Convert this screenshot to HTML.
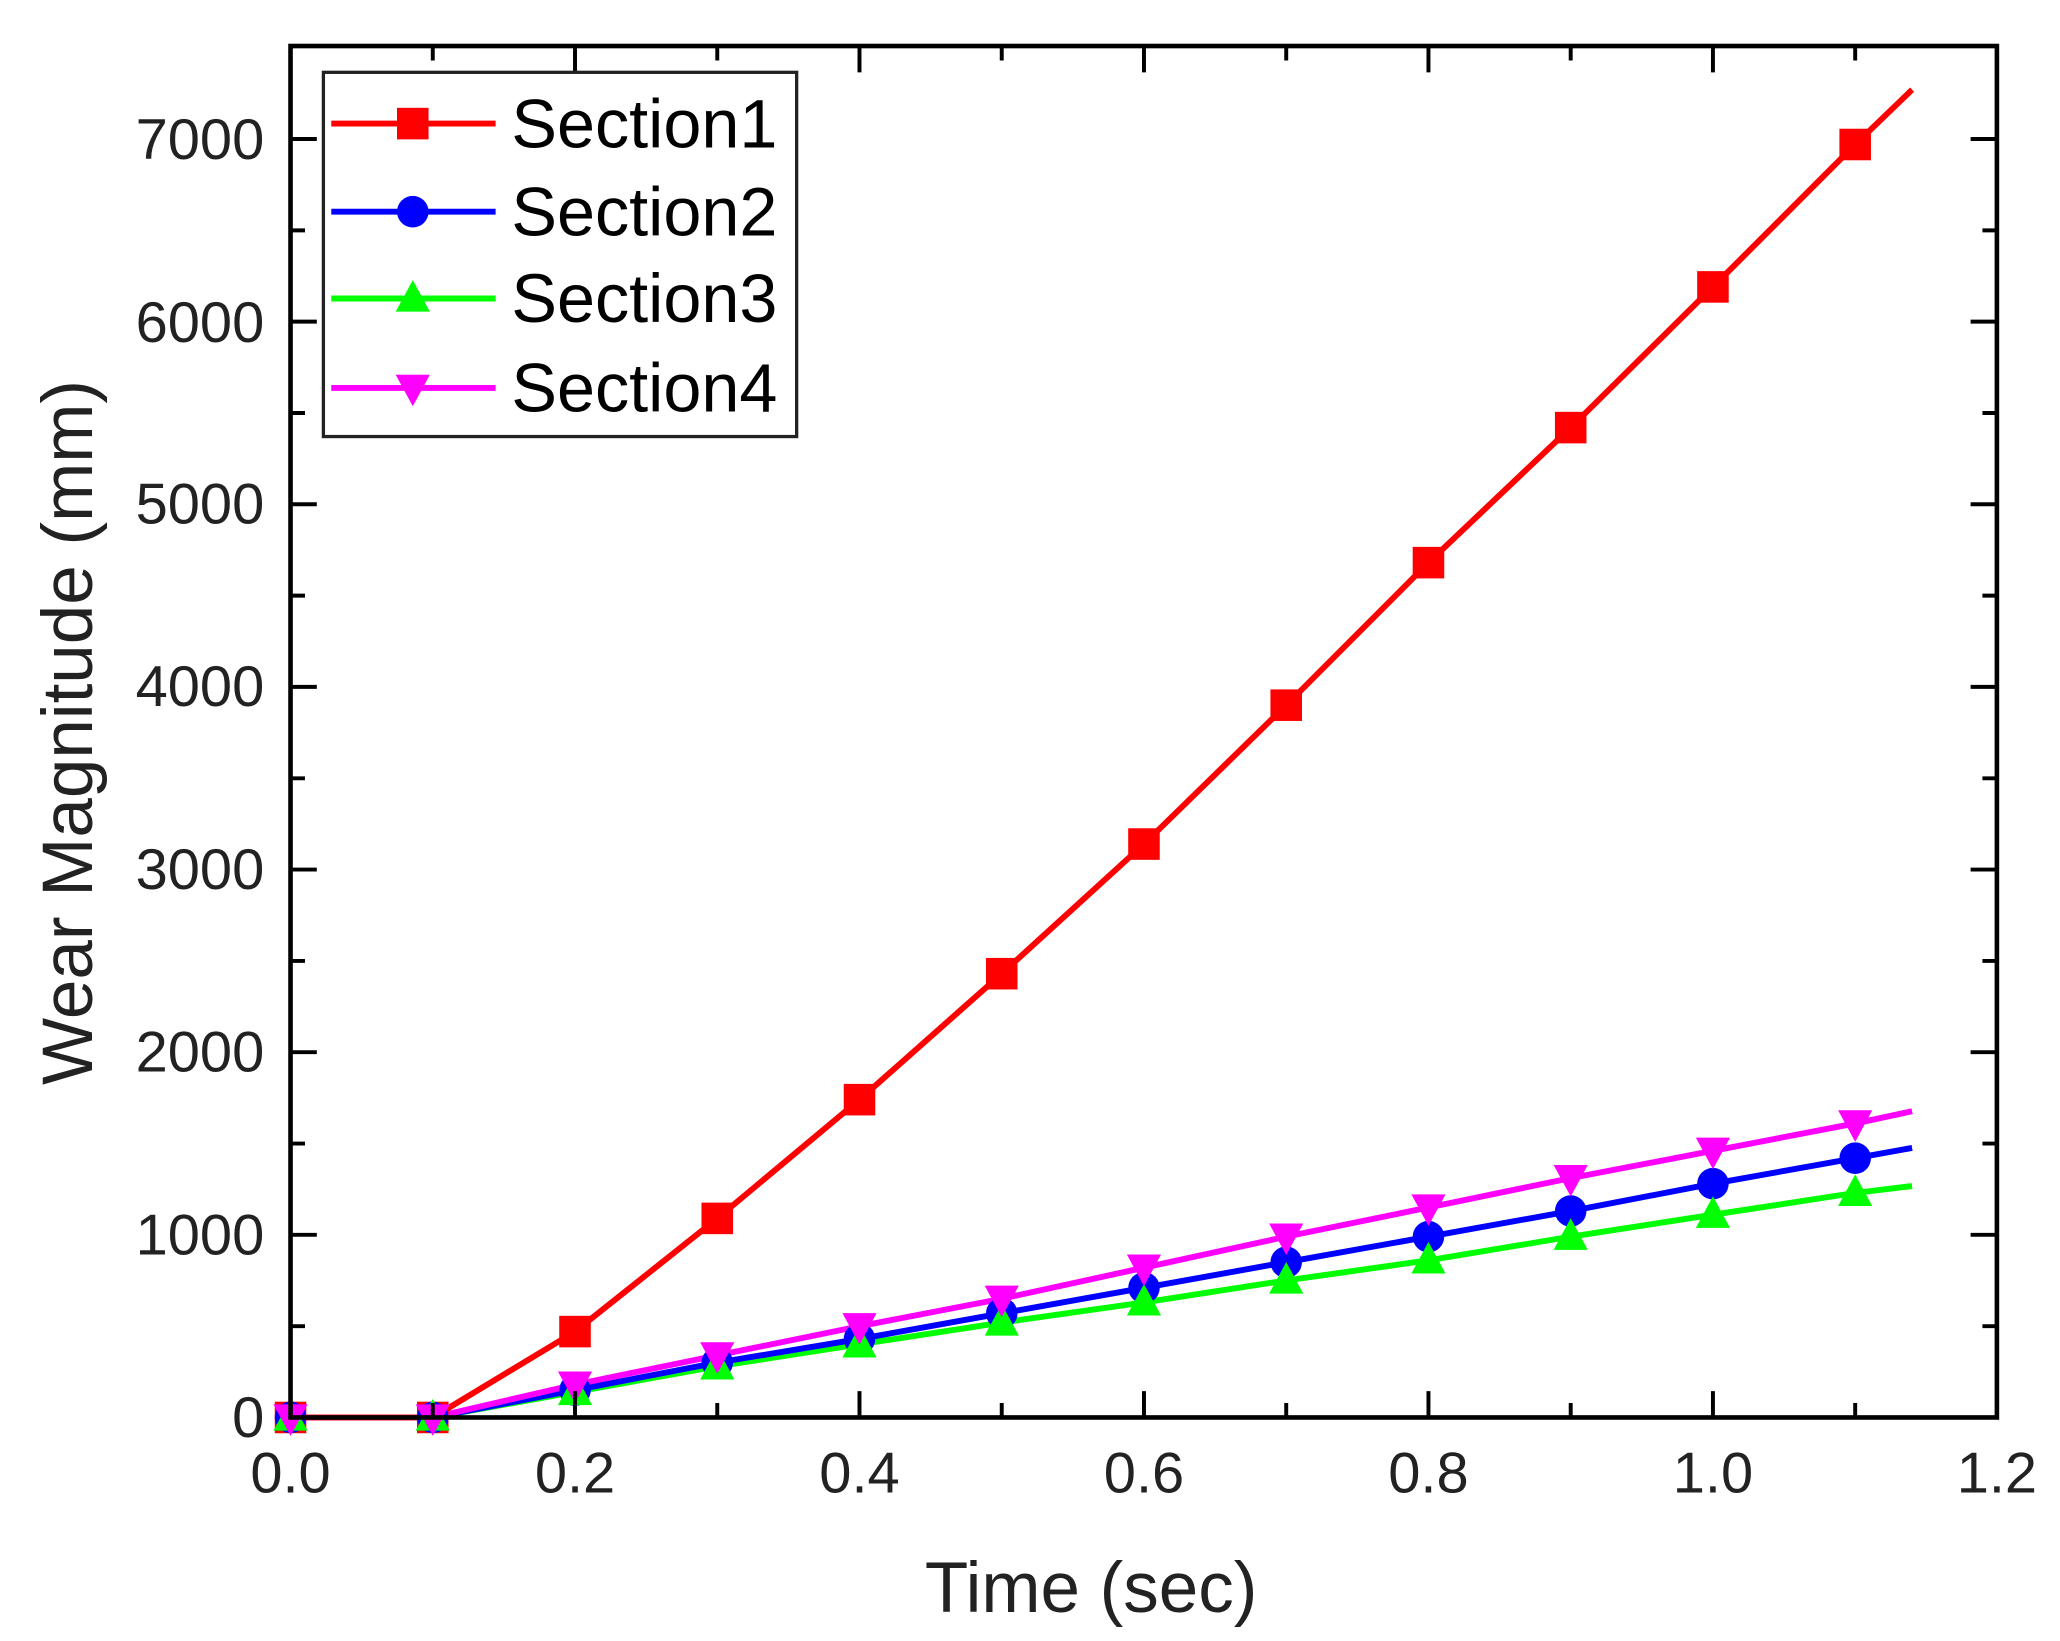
<!DOCTYPE html>
<html><head><style>html,body{margin:0;padding:0;background:#fff}svg{display:block}</style></head>
<body>
<svg width="2060" height="1641" viewBox="0 0 1567 1248" preserveAspectRatio="none" xmlns="http://www.w3.org/2000/svg" font-family="Liberation Sans, Arial, sans-serif">
<defs>
<rect id="sq" x="-12" y="-12" width="24" height="24" fill="#ff0000"/>
<circle id="ci" r="12" fill="#0000ff"/>
<polygon id="tu" points="0,-14 13,10 -13,10" fill="#00ff00"/>
<polygon id="td" points="0,14 13,-10 -13,-10" fill="#ff00ff"/>
</defs>
<rect width="1567" height="1248" fill="#fff"/>
<g fill="none" stroke-width="4.5" stroke-linejoin="round">
<polyline stroke="#00ff00" points="221,1078 329.2,1078 437.4,1058.6 545.6,1039.1 653.8,1022.4 762,1005.8 870.2,990.5 978.4,973.8 1086.6,958.5 1194.8,940.5 1303,923.8 1411.2,907.2 1454.5,902"/>
<polyline stroke="#0000ff" points="221,1078 329.2,1078 437.4,1057.2 545.6,1036.3 653.8,1018.3 762,998.8 870.2,979.4 978.4,959.9 1086.6,940.5 1194.8,921 1303,900.2 1411.2,880.8 1454.5,873"/>
<polyline stroke="#ff00ff" points="221,1078 329.2,1078 437.4,1053 545.6,1030.8 653.8,1008.6 762,987.7 870.2,964.1 978.4,940.5 1086.6,918.3 1194.8,896 1303,875.2 1411.2,854.4 1454.5,845.1"/>
<polyline stroke="#ff0000" points="221,1078 329.2,1078 437.4,1012.7 545.6,926.6 653.8,836.3 762,740.5 870.2,641.9 978.4,536.3 1086.6,427.9 1194.8,325.2 1303,218.2 1411.2,109.9 1454.5,68.2"/>
</g>
<g>
<use href="#sq" x="221" y="1078"/><use href="#sq" x="329.2" y="1078"/><use href="#sq" x="437.4" y="1012.7"/><use href="#sq" x="545.6" y="926.6"/><use href="#sq" x="653.8" y="836.3"/><use href="#sq" x="762" y="740.5"/><use href="#sq" x="870.2" y="641.9"/><use href="#sq" x="978.4" y="536.3"/><use href="#sq" x="1086.6" y="427.9"/><use href="#sq" x="1194.8" y="325.2"/><use href="#sq" x="1303" y="218.2"/><use href="#sq" x="1411.2" y="109.9"/>
<use href="#ci" x="221" y="1078"/><use href="#ci" x="329.2" y="1078"/><use href="#ci" x="437.4" y="1057.2"/><use href="#ci" x="545.6" y="1036.3"/><use href="#ci" x="653.8" y="1018.3"/><use href="#ci" x="762" y="998.8"/><use href="#ci" x="870.2" y="979.4"/><use href="#ci" x="978.4" y="959.9"/><use href="#ci" x="1086.6" y="940.5"/><use href="#ci" x="1194.8" y="921"/><use href="#ci" x="1303" y="900.2"/><use href="#ci" x="1411.2" y="880.8"/>
<use href="#tu" x="221" y="1078"/><use href="#tu" x="329.2" y="1078"/><use href="#tu" x="437.4" y="1058.6"/><use href="#tu" x="545.6" y="1039.1"/><use href="#tu" x="653.8" y="1022.4"/><use href="#tu" x="762" y="1005.8"/><use href="#tu" x="870.2" y="990.5"/><use href="#tu" x="978.4" y="973.8"/><use href="#tu" x="1086.6" y="958.5"/><use href="#tu" x="1194.8" y="940.5"/><use href="#tu" x="1303" y="923.8"/><use href="#tu" x="1411.2" y="907.2"/>
<use href="#td" x="221" y="1078"/><use href="#td" x="329.2" y="1078"/><use href="#td" x="437.4" y="1053"/><use href="#td" x="545.6" y="1030.8"/><use href="#td" x="653.8" y="1008.6"/><use href="#td" x="762" y="987.7"/><use href="#td" x="870.2" y="964.1"/><use href="#td" x="978.4" y="940.5"/><use href="#td" x="1086.6" y="918.3"/><use href="#td" x="1194.8" y="896"/><use href="#td" x="1303" y="875.2"/><use href="#td" x="1411.2" y="854.4"/>
</g>
<rect x="221" y="35" width="1298" height="1043" fill="none" stroke="#000" stroke-width="3.5"/>
<g stroke="#000" stroke-width="3">
<path d="M221 939.1h20M221 800.2h20M221 661.3h20M221 522.4h20M221 383.5h20M221 244.6h20M221 105.7h20
M1519 939.1h-20M1519 800.2h-20M1519 661.3h-20M1519 522.4h-20M1519 383.5h-20M1519 244.6h-20M1519 105.7h-20
M221 1008.6h11M221 869.7h11M221 730.8h11M221 591.9h11M221 453h11M221 314.1h11M221 175.2h11
M1519 1008.6h-11M1519 869.7h-11M1519 730.8h-11M1519 591.9h-11M1519 453h-11M1519 314.1h-11M1519 175.2h-11
M437.4 1078v-20M653.8 1078v-20M870.2 1078v-20M1086.6 1078v-20M1303 1078v-20
M437.4 35v20M653.8 35v20M870.2 35v20M1086.6 35v20M1303 35v20
M329.2 1078v-11M545.6 1078v-11M762 1078v-11M978.4 1078v-11M1194.8 1078v-11M1411.2 1078v-11
M329.2 35v11M545.6 35v11M762 35v11M978.4 35v11M1194.8 35v11M1411.2 35v11"/>
</g>
<g font-size="44" fill="#222" text-anchor="end">
<text x="201" y="1093">0</text>
<text x="201" y="954">1000</text>
<text x="201" y="815">2000</text>
<text x="201" y="676">3000</text>
<text x="201" y="537">4000</text>
<text x="201" y="398">5000</text>
<text x="201" y="260">6000</text>
<text x="201" y="121">7000</text>
</g>
<g font-size="44" fill="#222" text-anchor="middle">
<text x="221" y="1135">0.0</text>
<text x="437.4" y="1135">0.2</text>
<text x="653.8" y="1135">0.4</text>
<text x="870.2" y="1135">0.6</text>
<text x="1086.6" y="1135">0.8</text>
<text x="1303" y="1135">1.0</text>
<text x="1519" y="1135">1.2</text>
</g>
<text x="830" y="1226" font-size="54" text-anchor="middle" fill="#222">Time (sec)</text>
<text transform="translate(70,557) rotate(-90)" font-size="54" text-anchor="middle" fill="#222">Wear Magnitude (mm)</text>
<rect x="246" y="55" width="360" height="277" fill="#fff" stroke="#222" stroke-width="2.5"/>
<g stroke-width="4.5">
<line x1="252" y1="94" x2="377" y2="94" stroke="#ff0000"/>
<line x1="252" y1="161" x2="377" y2="161" stroke="#0000ff"/>
<line x1="252" y1="227" x2="377" y2="227" stroke="#00ff00"/>
<line x1="252" y1="295" x2="377" y2="295" stroke="#ff00ff"/>
</g>
<use href="#sq" x="314" y="94"/><use href="#ci" x="314" y="161"/><use href="#tu" x="314" y="227"/><use href="#td" x="314" y="295"/>
<g font-size="52" fill="#000">
<text x="389" y="112">Section1</text>
<text x="389" y="179">Section2</text>
<text x="389" y="245">Section3</text>
<text x="389" y="313">Section4</text>
</g>
</svg>
</body></html>
